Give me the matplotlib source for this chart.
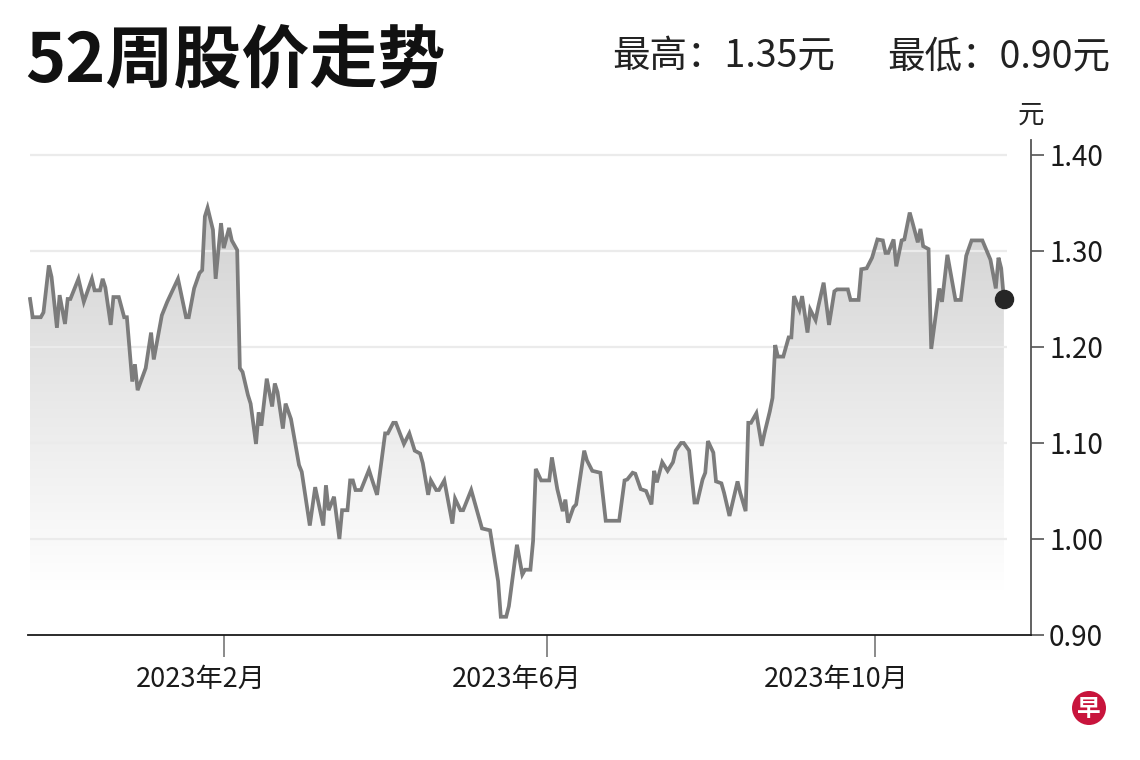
import matplotlib
matplotlib.use("Agg")
import matplotlib.pyplot as plt
import matplotlib.dates as mdates
from matplotlib.patches import Circle
from matplotlib.transforms import IdentityTransform, ScaledTranslation
import numpy as np
import pandas as pd

plt.rcParams['font.family'] = ['Noto Sans CJK SC', 'DejaVu Sans']

# ---------------- data ----------------
dates = [
    "2022-11-21", "2022-11-22", "2022-11-25", "2022-11-26", "2022-11-28", "2022-11-29",
    "2022-12-01", "2022-12-02", "2022-12-04", "2022-12-05", "2022-12-06", "2022-12-09",
    "2022-12-11", "2022-12-14", "2022-12-15", "2022-12-17", "2022-12-18", "2022-12-19",
    "2022-12-21", "2022-12-22", "2022-12-24", "2022-12-26", "2022-12-27", "2022-12-29",
    "2022-12-30", "2022-12-31", "2023-01-03", "2023-01-05", "2023-01-06", "2023-01-09",
    "2023-01-11", "2023-01-15", "2023-01-18", "2023-01-19", "2023-01-21", "2023-01-23",
    "2023-01-24", "2023-01-25", "2023-01-26", "2023-01-28", "2023-01-29", "2023-01-31",
    "2023-02-01", "2023-02-03", "2023-02-04", "2023-02-06", "2023-02-07", "2023-02-08",
    "2023-02-10", "2023-02-11", "2023-02-13", "2023-02-14", "2023-02-15", "2023-02-17",
    "2023-02-19", "2023-02-20", "2023-02-21", "2023-02-23", "2023-02-24", "2023-02-26",
    "2023-03-01", "2023-03-02", "2023-03-05", "2023-03-07", "2023-03-10", "2023-03-11",
    "2023-03-12", "2023-03-14", "2023-03-16", "2023-03-17", "2023-03-19", "2023-03-20",
    "2023-03-21", "2023-03-22", "2023-03-24", "2023-03-27", "2023-03-28", "2023-03-30",
    "2023-04-02", "2023-04-03", "2023-04-05", "2023-04-06", "2023-04-09", "2023-04-11",
    "2023-04-13", "2023-04-15", "2023-04-16", "2023-04-18", "2023-04-19", "2023-04-21",
    "2023-04-22", "2023-04-24", "2023-04-27", "2023-04-28", "2023-04-30", "2023-05-01",
    "2023-05-04", "2023-05-08", "2023-05-11", "2023-05-14", "2023-05-15", "2023-05-17",
    "2023-05-18", "2023-05-21", "2023-05-23", "2023-05-24", "2023-05-26", "2023-05-27",
    "2023-05-28", "2023-05-30", "2023-06-02", "2023-06-03", "2023-06-05", "2023-06-07",
    "2023-06-08", "2023-06-09", "2023-06-11", "2023-06-12", "2023-06-15", "2023-06-16",
    "2023-06-18", "2023-06-21", "2023-06-23", "2023-06-28", "2023-06-30", "2023-07-01",
    "2023-07-03", "2023-07-04", "2023-07-06", "2023-07-08", "2023-07-10", "2023-07-11",
    "2023-07-12", "2023-07-14", "2023-07-16", "2023-07-18", "2023-07-19", "2023-07-21",
    "2023-07-22", "2023-07-24", "2023-07-26", "2023-07-27", "2023-07-29", "2023-07-30",
    "2023-07-31", "2023-08-02", "2023-08-03", "2023-08-05", "2023-08-06", "2023-08-08",
    "2023-08-11", "2023-08-12", "2023-08-14", "2023-08-15", "2023-08-16", "2023-08-18",
    "2023-08-20", "2023-08-21", "2023-08-23", "2023-08-24", "2023-08-25", "2023-08-26",
    "2023-08-28", "2023-08-30", "2023-08-31", "2023-09-01", "2023-09-03", "2023-09-04",
    "2023-09-06", "2023-09-07", "2023-09-09", "2023-09-10", "2023-09-12", "2023-09-14",
    "2023-09-16", "2023-09-17", "2023-09-21", "2023-09-22", "2023-09-25", "2023-09-26",
    "2023-09-28", "2023-09-30", "2023-10-02", "2023-10-04", "2023-10-05", "2023-10-06",
    "2023-10-08", "2023-10-09", "2023-10-11", "2023-10-12", "2023-10-14", "2023-10-15",
    "2023-10-17", "2023-10-18", "2023-10-19", "2023-10-21", "2023-10-22", "2023-10-25",
    "2023-10-26", "2023-10-28", "2023-10-31", "2023-11-02", "2023-11-04", "2023-11-06",
    "2023-11-10", "2023-11-13", "2023-11-15", "2023-11-16", "2023-11-17", "2023-11-18",
]
prices = [
    1.250, 1.231, 1.231, 1.236, 1.285, 1.273,
    1.220, 1.254, 1.224, 1.250, 1.250, 1.271,
    1.247, 1.271, 1.259, 1.259, 1.271, 1.262,
    1.223, 1.252, 1.252, 1.231, 1.231, 1.164,
    1.182, 1.155, 1.178, 1.215, 1.187, 1.233,
    1.247, 1.271, 1.231, 1.231, 1.261, 1.277,
    1.280, 1.336, 1.345, 1.322, 1.271, 1.329,
    1.303, 1.324, 1.311, 1.301, 1.178, 1.174,
    1.150, 1.141, 1.099, 1.132, 1.118, 1.167,
    1.138, 1.162, 1.153, 1.115, 1.141, 1.125,
    1.077, 1.070, 1.014, 1.054, 1.014, 1.056,
    1.030, 1.044, 1.000, 1.030, 1.030, 1.061,
    1.061, 1.051, 1.051, 1.072, 1.063, 1.046,
    1.110, 1.110, 1.121, 1.121, 1.099, 1.110,
    1.092, 1.089, 1.079, 1.046, 1.061, 1.051,
    1.051, 1.061, 1.016, 1.042, 1.030, 1.030,
    1.051, 1.011, 1.009, 0.956, 0.919, 0.919,
    0.930, 0.994, 0.963, 0.968, 0.968, 0.998,
    1.073, 1.061, 1.061, 1.085, 1.052, 1.029,
    1.041, 1.017, 1.033, 1.036, 1.092, 1.082,
    1.071, 1.069, 1.019, 1.019, 1.061, 1.062,
    1.069, 1.068, 1.052, 1.050, 1.036, 1.071,
    1.059, 1.080, 1.071, 1.080, 1.092, 1.100,
    1.100, 1.092, 1.038, 1.038, 1.062, 1.069,
    1.102, 1.090, 1.060, 1.058, 1.048, 1.024,
    1.060, 1.048, 1.029, 1.121, 1.121, 1.131,
    1.097, 1.110, 1.133, 1.147, 1.202, 1.190,
    1.190, 1.210, 1.210, 1.253, 1.239, 1.253,
    1.215, 1.239, 1.228, 1.242, 1.267, 1.223,
    1.258, 1.260, 1.260, 1.249, 1.249, 1.281,
    1.282, 1.293, 1.312, 1.311, 1.298, 1.298,
    1.312, 1.284, 1.311, 1.312, 1.340, 1.330,
    1.309, 1.323, 1.305, 1.302, 1.198, 1.261,
    1.247, 1.296, 1.249, 1.249, 1.295, 1.311,
    1.311, 1.291, 1.261, 1.293, 1.282, 1.250,
]

title = "52周股价走势"
high_label = "最高：1.35元"
low_label = "最低：0.90元"
unit_label = "元"
y_ticks = [0.90, 1.00, 1.10, 1.20, 1.30, 1.40]
grid_values = [1.00, 1.10, 1.20, 1.30, 1.40]
x_tick_dates = ["2023-02-01", "2023-06-01", "2023-10-01"]
x_tick_labels = ["2023年2月", "2023年6月", "2023年10月"]
logo_char = "早"

# ---------------- figure ----------------
W, H = 1140, 760
fig = plt.figure(figsize=(W / 100, H / 100), dpi=100)
fig.patch.set_facecolor("white")
ax = fig.add_axes([28 / W, 1 - 635 / H, (1031 - 28) / W, (635 - 140) / H])
ax.set_facecolor("white")

d = pd.to_datetime(dates)
xn = mdates.date2num(d)
y = np.array(prices)

ymin, ymax = 0.90, 1.4156
xlim_left = mdates.date2num(pd.Timestamp("2022-11-20 06:00"))
xlim_right = mdates.date2num(pd.Timestamp("2023-11-28 02:00"))

# gradient fill under the line
vals = np.linspace(ymax, ymin, 400)
gray = np.clip(0.845 + (1.30 - vals) * 0.44, 0, 1)
rgb = np.dstack([gray, gray, gray]).reshape(400, 1, 3)
im = ax.imshow(rgb, extent=[xn[0], xn[-1], ymin, ymax], aspect="auto",
               origin="upper", zorder=1, interpolation="bilinear")
poly = ax.fill_between(xn, y, ymin, facecolor="none", edgecolor="none", zorder=1)
im.set_clip_path(poly.get_paths()[0], transform=ax.transData)

# grid lines
ax.hlines(grid_values, xn[0], xn[-1] + 1, colors="#ebebeb", linewidth=1.6, zorder=2)

# price line + last point
ax.plot(xn, y, color="#7c7c7c", linewidth=2.7, zorder=3, solid_joinstyle="miter")
ax.plot(xn[-1:], y[-1:], "o", markersize=13, color="#262626", zorder=4, clip_on=False)

ax.set_xlim(xlim_left, xlim_right)
ax.set_ylim(ymin, ymax)

# axes styling
for s in ["top", "left"]:
    ax.spines[s].set_visible(False)
ax.spines["bottom"].set_color("#1a1a1a")
ax.spines["bottom"].set_linewidth(1.3)
ax.spines["right"].set_color("#555555")
ax.spines["right"].set_linewidth(1.3)

ax.set_xticks(mdates.date2num(pd.to_datetime(x_tick_dates)))
ax.set_xticklabels(x_tick_labels, fontsize=19.5, color="#1a1a1a")
ax.tick_params(axis="x", length=16, width=1.2, color="#777777", pad=6)
# labels in the reference sit a little to the left of their tick marks
for lab, dx in zip(ax.get_xticklabels(), [-23, -30, -38]):
    lab.set_transform(lab.get_transform() + ScaledTranslation(dx / 100, 0, fig.dpi_scale_trans))

ax.yaxis.tick_right()
ax.set_yticks(y_ticks)
ax.set_yticklabels([f"{v:.2f}" for v in y_ticks], fontsize=20, color="#1a1a1a")
ax.tick_params(axis="y", length=9.5, width=1.2, color="#555555", pad=3.5)

# texts
fig.text(25 / W, 1 - 63 / H, title, fontsize=49, fontweight="bold",
         ha="left", va="center", color="#111111")
fig.text(612 / W, 1 - 57 / H, high_label, fontsize=27, ha="left", va="center", color="#222222")
fig.text(1110 / W, 1 - 57 / H, low_label, fontsize=27, ha="right", va="center", color="#222222")
fig.text(1031 / W, 1 - 115 / H, unit_label, fontsize=19, ha="center", va="center", color="#222222")

# logo
logo = Circle((1089, H - 708), 17, transform=IdentityTransform(),
              facecolor="#c8143c", edgecolor="none")
fig.add_artist(logo)
fig.text(1089 / W, 1 - 709 / H, logo_char, fontsize=17, fontweight="bold",
         ha="center", va="center", color="white")

fig.savefig("out.png", dpi=100, facecolor="white")
